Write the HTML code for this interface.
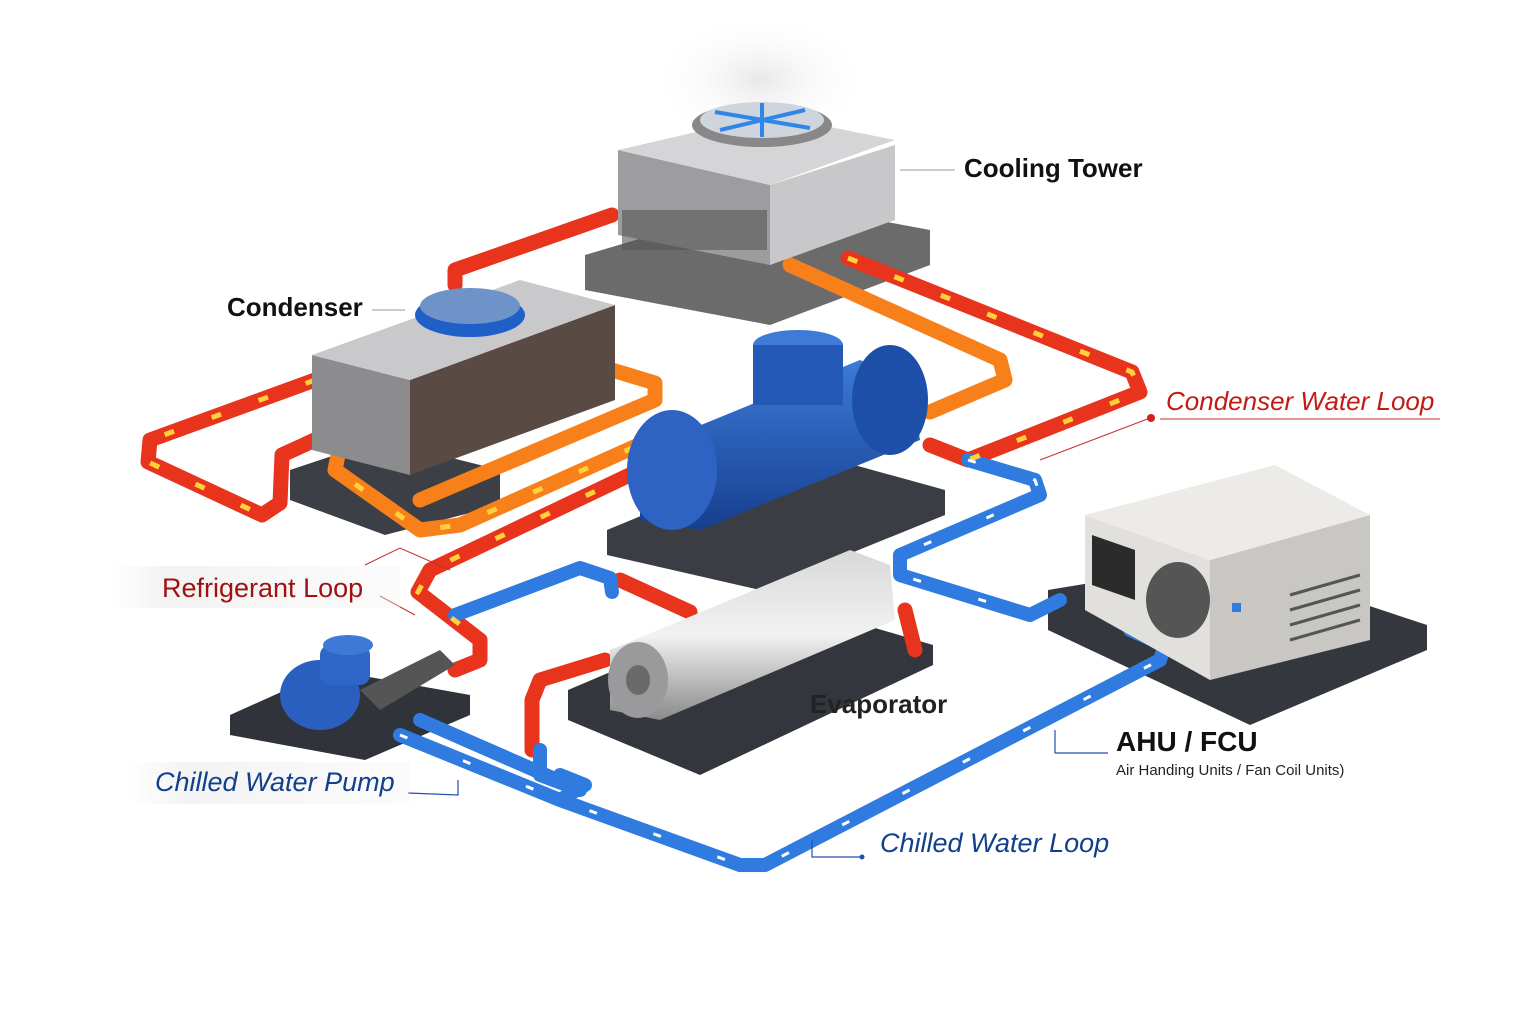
<!DOCTYPE html>
<html><head><meta charset="utf-8"><style>
html,body{margin:0;padding:0;background:#fff;}
svg{display:block}
text{font-family:"Liberation Sans",sans-serif;}
</style></head><body>
<svg width="1536" height="1024" viewBox="0 0 1536 1024" xmlns="http://www.w3.org/2000/svg">
<defs>
<linearGradient id="metal" x1="0" y1="0" x2="0" y2="1"><stop offset="0" stop-color="#d8d8d8"/><stop offset="0.5" stop-color="#f2f2f2"/><stop offset="1" stop-color="#8a8a8a"/></linearGradient>
<linearGradient id="blueg" x1="0" y1="0" x2="0" y2="1"><stop offset="0" stop-color="#3d7ad8"/><stop offset="1" stop-color="#163f8f"/></linearGradient>
<radialGradient id="steam" cx="0.5" cy="0.5" r="0.5"><stop offset="0" stop-color="#ccc" stop-opacity="0.45"/><stop offset="1" stop-color="#fff" stop-opacity="0"/></radialGradient>
<linearGradient id="lbg" x1="0" y1="0" x2="1" y2="0"><stop offset="0" stop-color="#f3f3f3" stop-opacity="0"/><stop offset="0.2" stop-color="#f3f3f3"/><stop offset="1" stop-color="#f3f3f3" stop-opacity="0.3"/></linearGradient>
</defs>

<ellipse cx="760" cy="80" rx="110" ry="65" fill="url(#steam)"/>

<polygon points="585,255 770,200 930,230 930,265 770,325 585,290" fill="#6b6b6b"/>
<polygon points="290,470 380,440 500,470 500,505 385,535 290,500" fill="#3c3f45"/>
<polygon points="607,530 800,450 945,490 945,515 760,590 607,555" fill="#3a3d44"/>
<polygon points="568,690 780,600 933,645 933,665 700,775 568,720" fill="#33363c"/>
<polygon points="230,715 330,670 470,695 470,715 365,760 230,735" fill="#30333a"/>
<polygon points="1048,590 1230,560 1427,625 1427,650 1250,725 1048,630" fill="#34373d"/>

<g fill="none" stroke-linecap="round" stroke-linejoin="round" stroke-width="15">
<polyline stroke="#e8331d" points="315,380 150,440 148,462 262,515 280,503 282,455 330,433"/>
<polyline stroke="#e8331d" points="455,285 455,270 612,215"/>
<polyline stroke="#e8331d" points="848,258 1132,372 1140,392 968,460 930,445"/>
<polyline stroke="#f7801a" points="790,265 1000,360 1005,380 930,412"/>
<polyline stroke="#f7801a" points="340,445 335,470 420,530 460,525 650,440"/>
<polyline stroke="#f7801a" points="612,370 655,383 655,400 420,500"/>
<polyline stroke="#e8331d" points="640,470 430,570 418,592 480,640 480,660 455,670"/>
<polyline stroke="#e8331d" points="620,580 690,612"/>
<polyline stroke="#e8331d" points="605,660 540,680 532,700 532,750"/>
<polyline stroke="#e8331d" points="905,610 915,650"/>
</g>
<g fill="none" stroke="#2f7be0" stroke-linecap="round" stroke-linejoin="round" stroke-width="14">
<polyline points="968,460 1035,480 1040,495 900,555 900,575 1030,615 1060,600"/>
<polyline points="455,615 580,568 610,578 612,592"/>
<polyline points="540,750 540,775 580,790 420,720"/>
<polyline points="400,735 560,800 740,865 765,865 1160,660 1165,645 1130,630"/>
<polyline points="560,800 585,785 560,775"/>
</g>
<g fill="none" stroke="#ffd23a" stroke-width="5" stroke-dasharray="10 40">
<polyline points="315,380 150,440 148,462 262,515"/>
<polyline points="848,258 1132,372 1140,392 968,460"/>
<polyline points="640,470 430,570 418,592 480,640"/>
<polyline points="340,445 335,470 420,530 460,525 650,440"/>
</g>
<g fill="none" stroke="#ffffff" stroke-width="3" stroke-dasharray="8 60">
<polyline points="400,735 560,800 740,865 765,865 1160,660"/>
<polyline points="968,460 1035,480 1040,495 900,555 900,575 1030,615"/>
</g>

<!-- cooling tower -->
<polygon points="618,150 770,185 770,265 618,235" fill="#9d9d9f"/>
<polygon points="770,185 895,145 895,220 770,265" fill="#c8c8ca"/>
<polygon points="618,150 770,115 895,140 770,185" fill="#d5d5d7"/>
<rect x="622" y="210" width="145" height="40" fill="#555" opacity="0.6"/>
<ellipse cx="762" cy="125" rx="70" ry="22" fill="#888"/>
<ellipse cx="762" cy="120" rx="62" ry="18" fill="#cfd5dd"/>
<g stroke="#2f86e8" stroke-width="4"><line x1="715" y1="112" x2="810" y2="128"/><line x1="720" y1="130" x2="805" y2="110"/><line x1="762" y1="103" x2="762" y2="137"/></g>

<!-- condenser -->
<polygon points="312,355 410,380 410,475 312,450" fill="#8c8c8e"/>
<polygon points="410,380 615,305 615,400 410,475" fill="#5a4a44"/>
<polygon points="312,355 520,280 615,305 410,380" fill="#c9c9cb"/>
<ellipse cx="470" cy="315" rx="55" ry="22" fill="#1f5fc8"/>
<ellipse cx="470" cy="306" rx="50" ry="18" fill="#6e93c8"/>

<!-- compressor -->
<polygon points="640,450 860,360 910,380 920,440 700,530 640,520" fill="url(#blueg)"/>
<ellipse cx="672" cy="470" rx="45" ry="60" fill="#2e63c4"/>
<ellipse cx="890" cy="400" rx="38" ry="55" fill="#1d4fa8"/>
<ellipse cx="798" cy="345" rx="45" ry="15" fill="#3e7ad8"/>
<rect x="753" y="345" width="90" height="60" fill="#2559b8"/>

<!-- evaporator -->
<polygon points="610,650 850,550 890,565 895,620 660,720 610,710" fill="url(#metal)"/>
<ellipse cx="638" cy="680" rx="30" ry="38" fill="#9a9a9c"/>
<ellipse cx="638" cy="680" rx="12" ry="15" fill="#6a6a6a"/>

<!-- pump -->
<ellipse cx="320" cy="695" rx="40" ry="35" fill="#2a5fc0"/>
<rect x="320" y="645" width="50" height="40" rx="10" fill="#2e66c8"/>
<ellipse cx="348" cy="645" rx="25" ry="10" fill="#3d7ad8"/>
<polygon points="360,690 440,650 455,665 380,710" fill="#555"/>

<!-- AHU -->
<polygon points="1085,515 1210,560 1210,680 1085,610" fill="#e2e0dc"/>
<polygon points="1210,560 1370,515 1370,640 1210,680" fill="#c9c7c3"/>
<polygon points="1085,515 1275,465 1370,515 1210,560" fill="#ecebe8"/>
<polygon points="1092,535 1135,550 1135,600 1092,585" fill="#2b2b2b"/>
<ellipse cx="1178" cy="600" rx="32" ry="38" fill="#555"/>
<rect x="1232" y="603" width="9" height="9" fill="#2f7be0"/>
<g stroke="#555" stroke-width="3"><line x1="1290" y1="595" x2="1360" y2="575"/><line x1="1290" y1="610" x2="1360" y2="590"/><line x1="1290" y1="625" x2="1360" y2="605"/><line x1="1290" y1="640" x2="1360" y2="620"/></g>

<g stroke="#c03030" stroke-width="1" fill="none">
<polyline points="1150,418 1040,460"/><line x1="1160" y1="419" x2="1440" y2="419"/>
<polyline points="365,565 400,548 450,570"/>
<polyline points="380,596 415,615"/>
</g>
<g stroke="#999" stroke-width="1"><line x1="900" y1="170" x2="955" y2="170"/><line x1="372" y1="310" x2="405" y2="310"/></g>
<g stroke="#2050b0" stroke-width="1.2" fill="none">
<polyline points="408,793 458,795 458,780"/>
<polyline points="862,857 812,857 812,840"/>
<polyline points="1108,753 1055,753 1055,730"/>
</g>
<circle cx="1151" cy="418" r="4" fill="#d02020"/>
<circle cx="862" cy="857" r="2.5" fill="#2050b0"/>

<rect x="110" y="566" width="290" height="42" fill="url(#lbg)"/>
<rect x="130" y="762" width="280" height="42" fill="url(#lbg)"/>

<text x="964" y="177" font-size="26" font-weight="bold" fill="#111">Cooling Tower</text>
<text x="227" y="316" font-size="26" font-weight="bold" fill="#111">Condenser</text>
<text x="1166" y="410" font-size="26" font-style="italic" fill="#c41a14">Condenser Water Loop</text>
<text x="162" y="597" font-size="27" fill="#a01212">Refrigerant Loop</text>
<text x="810" y="713" font-size="26" font-weight="bold" fill="#222">Evaporator</text>
<text x="1116" y="751" font-size="28" font-weight="bold" fill="#111">AHU / FCU</text>
<text x="1116" y="775" font-size="15" fill="#222">Air Handing Units / Fan Coil Units)</text>
<text x="155" y="791" font-size="27" font-style="italic" fill="#123f8c">Chilled Water Pump</text>
<text x="880" y="852" font-size="27" font-style="italic" fill="#123f8c">Chilled Water Loop</text>
</svg>
</body></html>
